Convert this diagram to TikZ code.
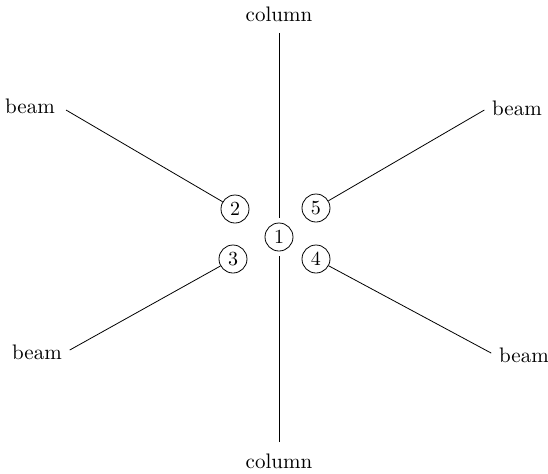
\documentclass[tikz,border=0pt]{standalone}
\usepackage{tikz}
\usetikzlibrary{positioning}

\begin{document}
\begin{tikzpicture}[x=0.5pt, y=-0.5pt,
        joint/.style={circle, draw, minimum size=14pt, inner sep=0pt, font=\normalsize},
        member/.style={inner sep=2pt, font=\fontsize{10.5}{12}\selectfont},
        line/.style={draw, black, thin}]
        \useasboundingbox (0,0) rectangle (548,473);

        \node [joint] (n1) at (279,237) {1};
        \node [joint] (n2) at (235,209) {2};
        \node [joint] (n3) at (233,259) {3};
        \node [joint] (n4) at (316,259) {4};
        \node [joint] (n5) at (316,208) {5};

        \node [member] (colTop) at (279,14) {column};
        \node [member] (colBot) at (279,461) {column};
        \node [member] (beamTL) at (30,106) {beam};
        \node [member] (beamTR) at (517,108) {beam};
        \node [member] (beamBL) at (37,352) {beam};
        \node [member] (beamBR) at (524,355) {beam};

        \path [line, shorten <=3.5pt, shorten >=2.5pt] (colTop) -- (n1);
        \path [line, shorten <=3.5pt, shorten >=2.5pt] (colBot) -- (n1);
        \path [line, shorten <=4pt] (beamTL.east) -- (n2);
        \path [line, shorten <=2pt] (beamTR.west) -- (n5);
        \path [line, shorten <=2pt] (beamBL.east) -- (n3);
        \path [line, shorten <=2pt] (beamBR.west) -- (n4);
    \end{tikzpicture}
\end{document}
